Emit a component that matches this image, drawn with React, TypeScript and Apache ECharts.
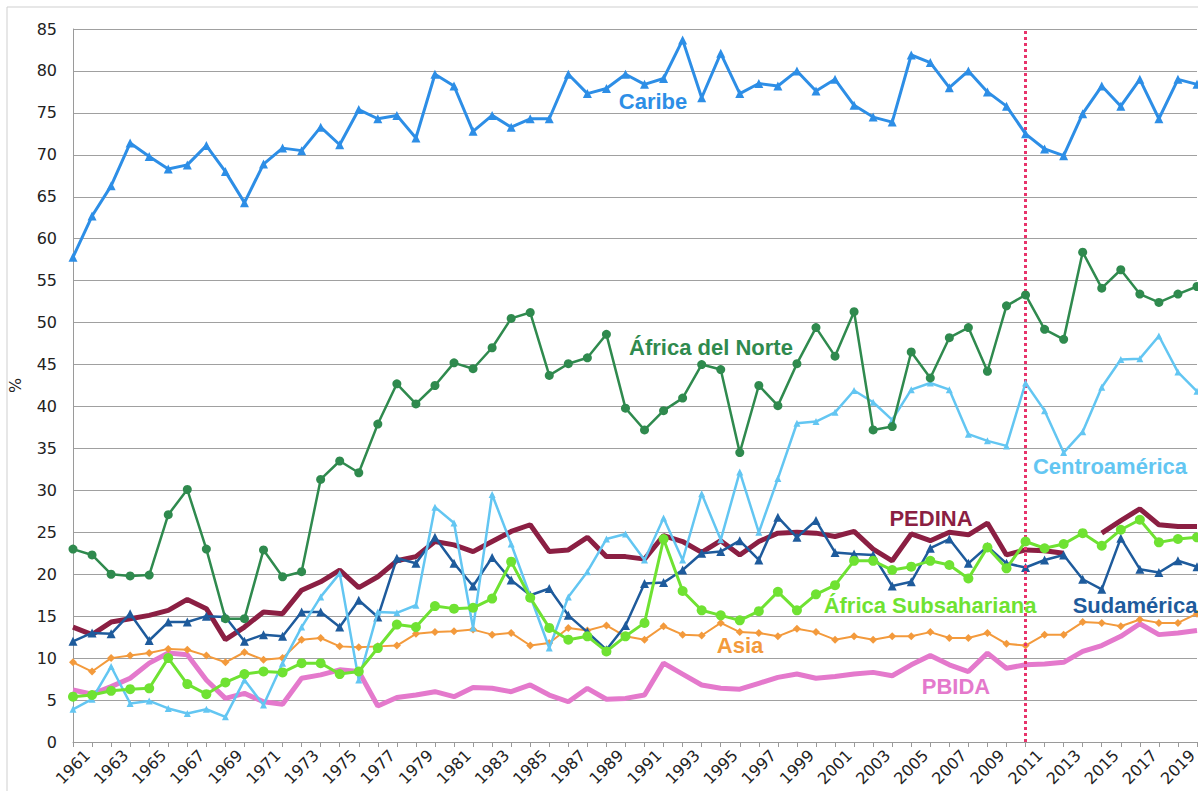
import React, { useEffect, useRef } from "react";
import * as echarts from "echarts";

const years: string[] = [];
for (let y = 1961; y <= 2020; y++) years.push(String(y));

const caribe = [57.8, 62.7, 66.3, 71.4, 69.8, 68.3, 68.8, 71.1, 68.0, 64.3, 68.9, 70.8, 70.5, 73.3, 71.2, 75.4, 74.3, 74.7, 72.0, 79.6, 78.2, 72.8, 74.7, 73.3, 74.3, 74.3, 79.6, 77.3, 77.9, 79.6, 78.4, 79.1, 83.7, 76.8, 82.1, 77.3, 78.5, 78.2, 80.0, 77.6, 79.0, 75.9, 74.5, 73.9, 81.9, 81.0, 78.0, 80.0, 77.5, 75.8, 72.5, 70.7, 69.9, 74.9, 78.2, 75.8, 79.0, 74.3, 79.0, 78.4];
const africaNorte = [23.0, 22.3, 20.0, 19.8, 19.9, 27.1, 30.1, 23.0, 14.7, 14.7, 22.9, 19.7, 20.3, 31.3, 33.5, 32.1, 37.9, 42.7, 40.3, 42.5, 45.2, 44.5, 47.0, 50.5, 51.2, 43.7, 45.1, 45.8, 48.6, 39.8, 37.2, 39.5, 41.0, 45.0, 44.4, 34.5, 42.5, 40.1, 45.1, 49.4, 46.0, 51.3, 37.2, 37.6, 46.5, 43.4, 48.2, 49.4, 44.2, 52.0, 53.3, 49.2, 48.0, 58.4, 54.1, 56.3, 53.4, 52.4, 53.4, 54.3];
const centroamerica = [3.9, 5.1, 9.0, 4.6, 4.9, 4.0, 3.4, 3.9, 3.0, 7.4, 4.4, 9.4, 13.7, 17.3, 20.1, 7.4, 15.5, 15.4, 16.3, 28.0, 26.1, 13.6, 29.5, 23.6, 17.4, 11.2, 17.3, 20.3, 24.2, 24.8, 21.7, 26.7, 21.7, 29.6, 24.1, 32.2, 25.0, 31.4, 38.0, 38.2, 39.3, 41.9, 40.5, 38.4, 42.0, 42.8, 42.0, 36.7, 35.9, 35.3, 42.8, 39.5, 34.5, 37.0, 42.3, 45.6, 45.7, 48.4, 44.1, 41.8];
const pedina = [13.7, 12.8, 14.3, 14.7, 15.1, 15.7, 17.0, 15.9, 12.2, 13.7, 15.5, 15.3, 18.1, 19.1, 20.5, 18.4, 19.7, 21.6, 22.1, 23.9, 23.5, 22.7, 23.9, 25.1, 25.9, 22.7, 22.9, 24.4, 22.1, 22.1, 21.8, 24.6, 23.9, 22.6, 24.0, 22.3, 23.9, 24.9, 25.0, 24.9, 24.5, 25.1, 23.0, 21.6, 24.8, 24.0, 25.0, 24.7, 26.1, 22.3, 22.9, 22.8, 22.5, null, 24.9, 26.4, 27.8, 25.9, 25.7, 25.7];
const sudamerica = [12.0, 13.0, 12.9, 15.3, 12.1, 14.3, 14.3, 15.0, 14.9, 12.0, 12.8, 12.6, 15.5, 15.5, 13.7, 16.9, 14.9, 21.9, 21.3, 24.4, 21.3, 18.6, 22.0, 19.3, 17.5, 18.3, 15.1, 13.1, 11.0, 13.9, 18.9, 19.0, 20.5, 22.5, 22.7, 24.0, 21.7, 26.8, 24.4, 26.4, 22.6, 22.4, 22.3, 18.6, 19.1, 23.1, 24.2, 21.3, 23.3, 21.3, 20.8, 21.7, 22.3, 19.4, 18.2, 24.3, 20.6, 20.2, 21.6, 20.9];
const asia = [9.5, 8.4, 10.0, 10.3, 10.6, 11.1, 11.0, 10.3, 9.5, 10.7, 9.8, 10.0, 12.2, 12.4, 11.4, 11.3, 11.4, 11.5, 12.9, 13.1, 13.2, 13.4, 12.8, 13.0, 11.5, 11.8, 13.6, 13.3, 13.9, 12.6, 12.2, 13.8, 12.8, 12.7, 14.2, 13.1, 13.0, 12.6, 13.5, 13.1, 12.2, 12.6, 12.2, 12.6, 12.6, 13.1, 12.4, 12.4, 13.0, 11.7, 11.5, 12.8, 12.8, 14.3, 14.2, 13.8, 14.6, 14.2, 14.2, 15.3];
const africaSub = [5.4, 5.6, 6.1, 6.3, 6.4, 10.0, 6.9, 5.7, 7.1, 8.1, 8.4, 8.3, 9.4, 9.4, 8.1, 8.4, 11.2, 14.0, 13.7, 16.2, 15.9, 16.0, 17.1, 21.5, 17.2, 13.6, 12.2, 12.6, 10.8, 12.6, 14.2, 24.2, 18.0, 15.7, 15.1, 14.5, 15.6, 17.9, 15.7, 17.6, 18.7, 21.6, 21.6, 20.5, 20.9, 21.6, 21.1, 19.5, 23.2, 20.7, 23.9, 23.1, 23.6, 24.9, 23.4, 25.3, 26.5, 23.8, 24.2, 24.4];
const pbida = [6.2, 5.7, 6.6, 7.6, 9.4, 10.6, 10.4, 7.4, 5.2, 5.8, 4.8, 4.5, 7.6, 8.0, 8.6, 8.4, 4.3, 5.3, 5.6, 6.0, 5.4, 6.5, 6.4, 6.0, 6.8, 5.6, 4.8, 6.4, 5.1, 5.2, 5.6, 9.4, 8.1, 6.8, 6.4, 6.3, 7.0, 7.7, 8.1, 7.6, 7.8, 8.1, 8.3, 7.9, 9.2, 10.3, 9.2, 8.4, 10.6, 8.8, 9.2, 9.3, 9.5, 10.8, 11.5, 12.6, 14.1, 12.8, 13.0, 13.3];

const refYear = "2011";

const C = {
  caribe: "#2d8ee6",
  norte: "#2f8a4e",
  centro: "#63c6f2",
  pedina: "#8b1f43",
  sud: "#1e5b9c",
  asia: "#f39a3c",
  sub: "#6fe232",
  pbida: "#e479cc",
};

const labels = [
  { text: "Caribe", x: 653, y: 101, color: C.caribe },
  { text: "África del Norte", x: 711, y: 347, color: C.norte },
  { text: "Centroamérica", x: 1110, y: 466, color: C.centro },
  { text: "PEDINA", x: 931, y: 518, color: C.pedina },
  { text: "África Subsahariana", x: 930, y: 605, color: C.sub },
  { text: "Sudamérica", x: 1135, y: 605, color: C.sud },
  { text: "Asia", x: 740, y: 645, color: C.asia },
  { text: "PBIDA", x: 956, y: 686, color: C.pbida },
];

export default function App() {
  const ref = useRef<HTMLDivElement>(null);
  useEffect(() => {
    if (!ref.current) return;
    const chart = echarts.init(ref.current, null, { renderer: "svg" });
    const line = (name: string, data: (number | null)[], color: string, width: number, symbol: string, size: number, z: number, extra: any = {}) => ({
      name,
      type: "line",
      data,
      z,
      symbol,
      symbolSize: size,
      showSymbol: symbol !== "none",
      lineStyle: { color, width },
      itemStyle: { color, borderWidth: 0 },
      connectNulls: false,
      ...extra,
    });
    chart.setOption({
      animation: false,
      backgroundColor: "#ffffff",
      grid: { left: 73, right: 1, top: 29, bottom: 49, containLabel: false, outerBoundsMode: "none" },
      xAxis: {
        type: "category",
        data: years,
        boundaryGap: false,
        axisLine: { show: true, lineStyle: { color: "#9a9a9a", width: 1 } },
        axisTick: { show: true, alignWithLabel: true, interval: 0, length: 5, lineStyle: { color: "#9a9a9a" } },
        axisLabel: {
          interval: 1,
          rotate: 45,
          align: "center",
          verticalAlign: "middle",
          margin: 25,
          fontSize: 16,
          lineHeight: 16,
          fontFamily: "DejaVu Sans",
          color: "#222222",
        },
        splitLine: { show: false },
      },
      yAxis: {
        type: "value",
        min: 0,
        max: 85,
        interval: 5,
        name: "%",
        nameLocation: "middle",
        nameRotate: 90,
        nameGap: 50,
        nameTextStyle: { fontSize: 16, fontFamily: "DejaVu Sans", color: "#222222" },
        axisLine: { show: true, lineStyle: { color: "#9a9a9a", width: 1 } },
        axisTick: { show: false },
        axisLabel: { fontSize: 16, fontFamily: "DejaVu Sans", color: "#222222", margin: 16 },
        splitLine: { show: true, lineStyle: { color: "#a0a0a0", width: 1 } },
      },
      series: [
        line("PBIDA", pbida, C.pbida, 5, "none", 0, 1),
        line("PEDINA", pedina, C.pedina, 5, "none", 0, 2, {
          markLine: {
            silent: true,
            symbol: "none",
            label: { show: false },
            lineStyle: { color: "#e8336b", width: 3, type: [3, 3] },
            data: [{ xAxis: refYear }],
          },
        }),
        line("Asia", asia, C.asia, 2, "diamond", 8, 3),
        line("Sudamérica", sudamerica, C.sud, 2.5, "triangle", 9, 4),
        line("Centroamérica", centroamerica, C.centro, 2.5, "triangle", 7, 5),
        line("África Subsahariana", africaSub, C.sub, 3, "circle", 10, 6),
        line("África del Norte", africaNorte, C.norte, 2.5, "circle", 9, 7),
        line("Caribe", caribe, C.caribe, 3, "triangle", 9, 8),
      ],
      graphic: [
        {
          type: "rect",
          shape: { x: 7, y: 7, width: 1300, height: 900 },
          style: { fill: "none", stroke: "#cfcfcf", lineWidth: 1 },
          silent: true,
        },
        ...labels.map((l) => ({
          type: "text",
          x: l.x,
          y: l.y,
          style: {
            text: l.text,
            fill: l.color,
            font: "bold 22px 'Liberation Sans', Arial, sans-serif",
            textAlign: "center",
            textVerticalAlign: "middle",
          },
          z: 100,
        })),
      ],
    });
    return () => chart.dispose();
  }, []);
  return (
    <div
      ref={ref}
      style={{ position: "absolute", left: 0, top: 0, width: 1198, height: 791, background: "#fff" }}
    />
  );
}
